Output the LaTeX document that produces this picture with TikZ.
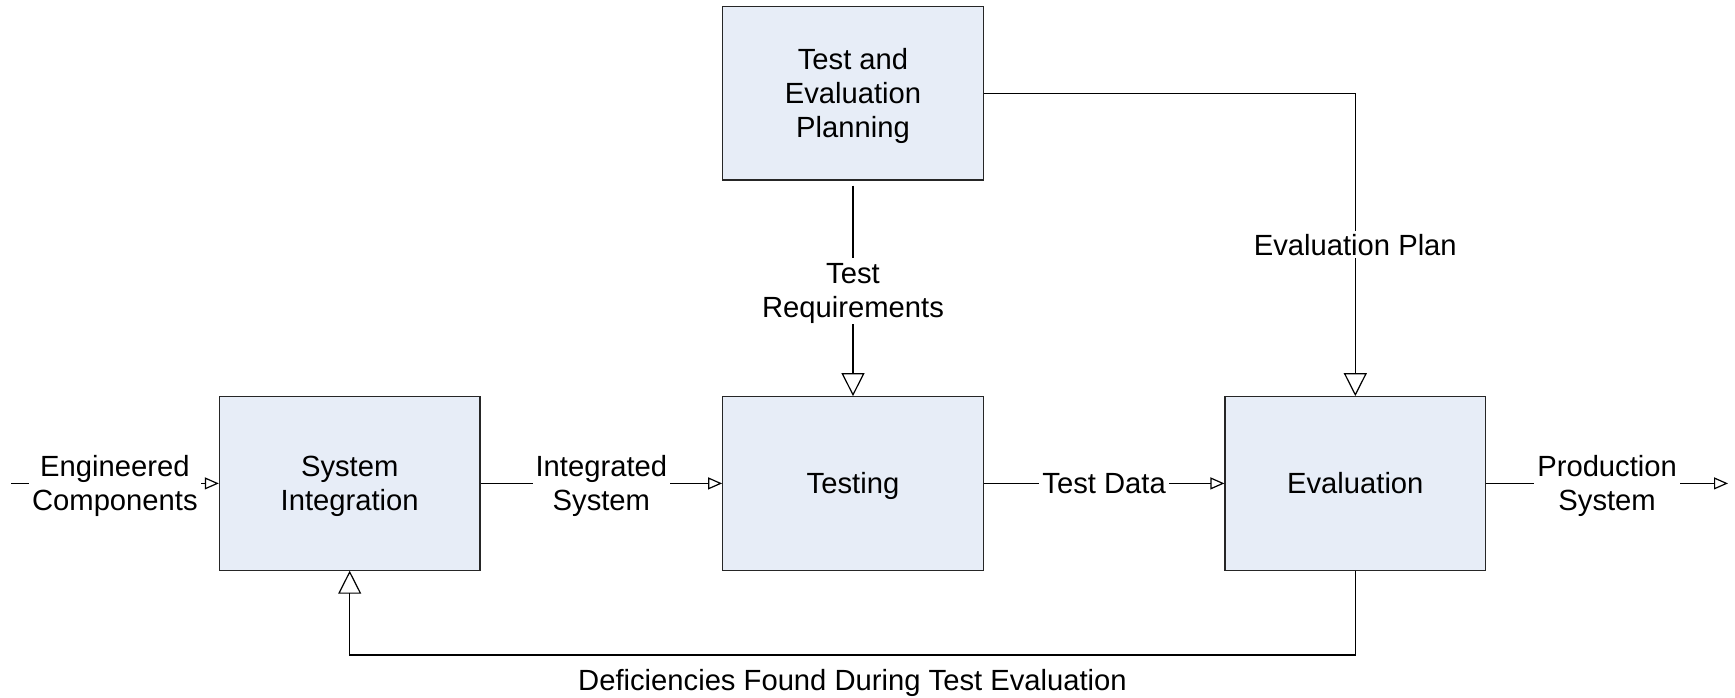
\documentclass[tikz,border=0pt]{standalone}
\usepackage{fontspec}
\setmainfont{Liberation Sans}
\usetikzlibrary{arrows.meta}
\definecolor{boxfill}{HTML}{E7EDF7}
\begin{document}
\begin{tikzpicture}[x=0.5pt,y=-0.5pt,
  font=\fontsize{14.6pt}{17pt}\selectfont,
  line width=0.6pt,
  blk/.style={draw=black!85, fill=boxfill, minimum width=130.3pt, minimum height=86.7pt, align=center, inner sep=0pt, text depth=0pt},
  lbl/.style={fill=white, align=center, inner sep=1.5pt, text depth=0pt},
  sm/.style={-{Triangle[open,length=7pt,width=6pt]}},
  bg/.style={-{Triangle[open,length=11.5pt,width=11.5pt]}}]
\useasboundingbox (0,0) rectangle (1735,697);
\node[blk] (tep) at (853,93.3) {Test and\\Evaluation\\Planning};
\node[blk] (si) at (349.7,483.4) {System\\Integration};
\node[blk] (tst) at (853,483.4) {Testing};
\node[blk] (ev) at (1355.3,483.4) {Evaluation};
\coordinate (in) at (11,483.4);
\coordinate (out) at (1728,483.4);
\coordinate (fb) at (0,655);
\draw[sm] (in) -- node[lbl]{Engineered\\Components} (si);
\draw[sm] (si) -- node[lbl]{Integrated\\System} (tst);
\draw[sm] (tst) -- node[lbl]{Test Data} (ev);
\draw[sm] (ev) -- node[lbl]{Production\\System} (out);
\draw[bg] ([yshift=-2.5pt]tep.south) -- node[lbl, inner sep=3pt]{Test\\Requirements} (tst);
\draw[bg] (tep.east) -| node[lbl, pos=0.75]{Evaluation Plan} (ev);
\draw[bg] (ev.south) -- (ev.south |- fb) -- node[below, inner sep=7pt]{Deficiencies Found During Test Evaluation} (si.south |- fb) -- (si.south);
\end{tikzpicture}
\end{document}
